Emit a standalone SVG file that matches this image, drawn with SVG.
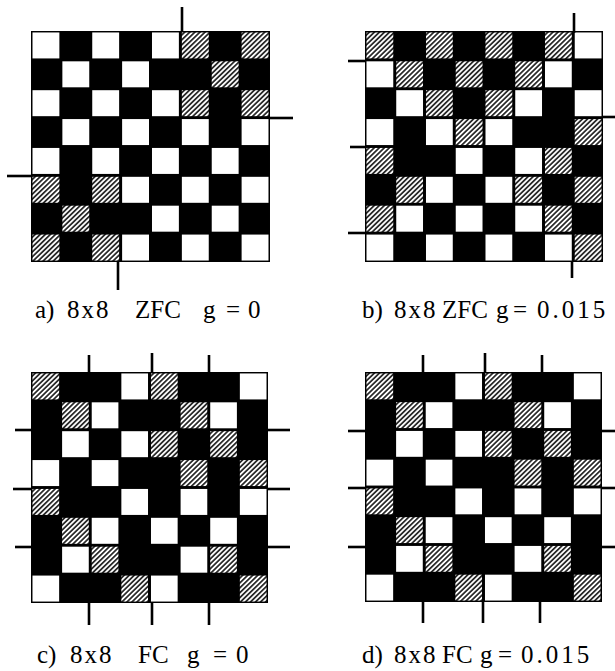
<svg xmlns="http://www.w3.org/2000/svg" xmlns:xlink="http://www.w3.org/1999/xlink" width="615" height="671" viewBox="0 0 615 671">
<style>
.board{fill:#000}
.mark{stroke:#000;stroke-width:2.6;fill:none}
.lbl{font-family:"Liberation Serif","DejaVu Serif",serif;font-size:25px;fill:#000}
.num{letter-spacing:3px}
.dim{letter-spacing:2px}
</style>
<defs>
<pattern id="hatch" width="3.6" height="3.6" patternUnits="userSpaceOnUse" patternTransform="rotate(45)">
<rect width="3.6" height="3.6" fill="#fff"/>
<line x1="1.8" y1="0" x2="1.8" y2="3.6" stroke="#000" stroke-width="1.5"/>
</pattern>
<rect id="w" width="27" height="27" fill="#fff"/>
<rect id="h" width="27" height="27" fill="url(#hatch)"/>
</defs>
<rect width="615" height="671" fill="#fff"/>

<g id="gridA" transform="translate(31,31) scale(0.9958,0.9625)">
<rect class="board" width="240" height="240"/>
<use href="#w" x="1.5" y="1.5"/><use href="#w" x="61.5" y="1.5"/><use href="#w" x="121.5" y="1.5"/><use href="#h" x="151.5" y="1.5"/><use href="#h" x="211.5" y="1.5"/>
<use href="#w" x="31.5" y="31.5"/><use href="#w" x="91.5" y="31.5"/><use href="#h" x="181.5" y="31.5"/>
<use href="#w" x="1.5" y="61.5"/><use href="#w" x="61.5" y="61.5"/><use href="#w" x="121.5" y="61.5"/><use href="#h" x="151.5" y="61.5"/><use href="#h" x="211.5" y="61.5"/>
<use href="#w" x="31.5" y="91.5"/><use href="#w" x="91.5" y="91.5"/><use href="#w" x="151.5" y="91.5"/><use href="#w" x="211.5" y="91.5"/>
<use href="#w" x="1.5" y="121.5"/><use href="#w" x="61.5" y="121.5"/><use href="#w" x="121.5" y="121.5"/><use href="#w" x="181.5" y="121.5"/>
<use href="#h" x="1.5" y="151.5"/><use href="#h" x="61.5" y="151.5"/><use href="#w" x="91.5" y="151.5"/><use href="#w" x="151.5" y="151.5"/><use href="#w" x="211.5" y="151.5"/>
<use href="#h" x="31.5" y="181.5"/><use href="#w" x="121.5" y="181.5"/><use href="#w" x="181.5" y="181.5"/>
<use href="#h" x="1.5" y="211.5"/><use href="#h" x="61.5" y="211.5"/><use href="#w" x="91.5" y="211.5"/><use href="#w" x="151.5" y="211.5"/><use href="#w" x="211.5" y="211.5"/>
</g>

<g id="gridB" transform="translate(365,31) scale(0.9917,0.9625)">
<rect class="board" width="240" height="240"/>
<use href="#h" x="1.5" y="1.5"/><use href="#h" x="61.5" y="1.5"/><use href="#h" x="121.5" y="1.5"/><use href="#h" x="181.5" y="1.5"/><use href="#w" x="211.5" y="1.5"/>
<use href="#w" x="1.5" y="31.5"/><use href="#h" x="31.5" y="31.5"/><use href="#h" x="91.5" y="31.5"/><use href="#h" x="151.5" y="31.5"/><use href="#w" x="181.5" y="31.5"/>
<use href="#w" x="31.5" y="61.5"/><use href="#h" x="61.5" y="61.5"/><use href="#h" x="121.5" y="61.5"/><use href="#w" x="151.5" y="61.5"/><use href="#w" x="211.5" y="61.5"/>
<use href="#w" x="1.5" y="91.5"/><use href="#w" x="61.5" y="91.5"/><use href="#h" x="91.5" y="91.5"/><use href="#w" x="121.5" y="91.5"/><use href="#h" x="211.5" y="91.5"/>
<use href="#h" x="1.5" y="121.5"/><use href="#w" x="91.5" y="121.5"/><use href="#w" x="151.5" y="121.5"/><use href="#h" x="181.5" y="121.5"/>
<use href="#h" x="31.5" y="151.5"/><use href="#w" x="61.5" y="151.5"/><use href="#w" x="121.5" y="151.5"/><use href="#h" x="151.5" y="151.5"/><use href="#h" x="211.5" y="151.5"/>
<use href="#h" x="1.5" y="181.5"/><use href="#w" x="31.5" y="181.5"/><use href="#w" x="91.5" y="181.5"/><use href="#w" x="151.5" y="181.5"/><use href="#h" x="181.5" y="181.5"/>
<use href="#w" x="1.5" y="211.5"/><use href="#w" x="61.5" y="211.5"/><use href="#w" x="121.5" y="211.5"/><use href="#w" x="181.5" y="211.5"/><use href="#h" x="211.5" y="211.5"/>
</g>

<g id="gridC" transform="translate(31,372) scale(0.9875,0.9625)">
<rect class="board" width="240" height="240"/>
<use href="#h" x="1.5" y="1.5"/><use href="#w" x="91.5" y="1.5"/><use href="#h" x="121.5" y="1.5"/><use href="#w" x="211.5" y="1.5"/>
<use href="#h" x="31.5" y="31.5"/><use href="#w" x="61.5" y="31.5"/><use href="#h" x="151.5" y="31.5"/><use href="#w" x="181.5" y="31.5"/>
<use href="#w" x="31.5" y="61.5"/><use href="#w" x="91.5" y="61.5"/><use href="#h" x="121.5" y="61.5"/><use href="#h" x="181.5" y="61.5"/>
<use href="#w" x="1.5" y="91.5"/><use href="#w" x="61.5" y="91.5"/><use href="#h" x="151.5" y="91.5"/><use href="#h" x="211.5" y="91.5"/>
<use href="#h" x="1.5" y="121.5"/><use href="#w" x="91.5" y="121.5"/><use href="#w" x="151.5" y="121.5"/><use href="#w" x="211.5" y="121.5"/>
<use href="#h" x="31.5" y="151.5"/><use href="#w" x="61.5" y="151.5"/><use href="#w" x="121.5" y="151.5"/><use href="#w" x="181.5" y="151.5"/>
<use href="#w" x="31.5" y="181.5"/><use href="#h" x="61.5" y="181.5"/><use href="#w" x="151.5" y="181.5"/><use href="#h" x="181.5" y="181.5"/>
<use href="#w" x="1.5" y="211.5"/><use href="#h" x="91.5" y="211.5"/><use href="#w" x="121.5" y="211.5"/><use href="#h" x="211.5" y="211.5"/>
</g>

<g id="gridD" transform="translate(365,372) scale(0.9875,0.9583)">
<rect class="board" width="240" height="240"/>
<use href="#h" x="1.5" y="1.5"/><use href="#w" x="91.5" y="1.5"/><use href="#h" x="121.5" y="1.5"/><use href="#w" x="211.5" y="1.5"/>
<use href="#h" x="31.5" y="31.5"/><use href="#w" x="61.5" y="31.5"/><use href="#h" x="151.5" y="31.5"/><use href="#w" x="181.5" y="31.5"/>
<use href="#w" x="31.5" y="61.5"/><use href="#w" x="91.5" y="61.5"/><use href="#h" x="121.5" y="61.5"/><use href="#h" x="181.5" y="61.5"/>
<use href="#w" x="1.5" y="91.5"/><use href="#w" x="61.5" y="91.5"/><use href="#h" x="151.5" y="91.5"/><use href="#h" x="211.5" y="91.5"/>
<use href="#h" x="1.5" y="121.5"/><use href="#w" x="91.5" y="121.5"/><use href="#w" x="151.5" y="121.5"/><use href="#w" x="211.5" y="121.5"/>
<use href="#h" x="31.5" y="151.5"/><use href="#w" x="61.5" y="151.5"/><use href="#w" x="121.5" y="151.5"/><use href="#w" x="181.5" y="151.5"/>
<use href="#w" x="31.5" y="181.5"/><use href="#h" x="61.5" y="181.5"/><use href="#w" x="151.5" y="181.5"/><use href="#h" x="181.5" y="181.5"/>
<use href="#w" x="1.5" y="211.5"/><use href="#h" x="91.5" y="211.5"/><use href="#w" x="121.5" y="211.5"/><use href="#h" x="211.5" y="211.5"/>
</g>

<g id="marks" class="mark">
<line x1="182" y1="7" x2="182" y2="32"/>
<line x1="270" y1="118" x2="293" y2="118"/>
<line x1="7" y1="176" x2="31" y2="176"/>
<line x1="118" y1="262" x2="118" y2="290"/>

<line x1="574" y1="13" x2="574" y2="33"/>
<line x1="572" y1="261" x2="572" y2="278"/>
<line x1="348" y1="61" x2="365" y2="61"/>
<line x1="350" y1="147" x2="365" y2="147"/>
<line x1="348" y1="233" x2="365" y2="233"/>
<line x1="603" y1="117" x2="615" y2="117"/>

<line x1="89" y1="355" x2="89" y2="372"/>
<line x1="152" y1="353" x2="152" y2="372"/>
<line x1="209" y1="355" x2="209" y2="372"/>
<line x1="89" y1="603" x2="89" y2="625"/>
<line x1="152" y1="603" x2="152" y2="625"/>
<line x1="209" y1="603" x2="209" y2="625"/>
<line x1="15" y1="430" x2="31" y2="430"/>
<line x1="13" y1="489" x2="31" y2="489"/>
<line x1="15" y1="547" x2="31" y2="547"/>
<line x1="268" y1="430" x2="290" y2="430"/>
<line x1="268" y1="489" x2="290" y2="489"/>
<line x1="268" y1="547" x2="290" y2="547"/>

<line x1="423" y1="355" x2="423" y2="372"/>
<line x1="485" y1="353" x2="485" y2="372"/>
<line x1="542" y1="355" x2="542" y2="372"/>
<line x1="423" y1="602" x2="423" y2="623"/>
<line x1="483" y1="602" x2="483" y2="623"/>
<line x1="540" y1="602" x2="540" y2="623"/>
<line x1="348" y1="431" x2="365" y2="431"/>
<line x1="348" y1="488" x2="365" y2="488"/>
<line x1="348" y1="547" x2="365" y2="547"/>
<line x1="602" y1="431" x2="615" y2="431"/>
<line x1="602" y1="488" x2="615" y2="488"/>
<line x1="602" y1="547" x2="615" y2="547"/>
</g>

<g id="labels" class="lbl">
<text y="318"><tspan x="35">a)</tspan><tspan x="67" class="dim">8x8</tspan><tspan x="135">ZFC</tspan><tspan x="203">g</tspan><tspan x="226">=</tspan><tspan x="248">0</tspan></text>
<text y="318"><tspan x="362">b)</tspan><tspan x="394" class="dim">8x8</tspan><tspan x="442">ZFC</tspan><tspan x="496">g</tspan><tspan x="513">=</tspan><tspan x="537" class="num">0.015</tspan></text>
<text y="663"><tspan x="37">c)</tspan><tspan x="70" class="dim">8x8</tspan><tspan x="138">FC</tspan><tspan x="187">g</tspan><tspan x="213">=</tspan><tspan x="236">0</tspan></text>
<text y="663"><tspan x="362">d)</tspan><tspan x="394" class="dim">8x8</tspan><tspan x="442">FC</tspan><tspan x="480">g</tspan><tspan x="498">=</tspan><tspan x="521" class="num">0.015</tspan></text>
</g>
</svg>
